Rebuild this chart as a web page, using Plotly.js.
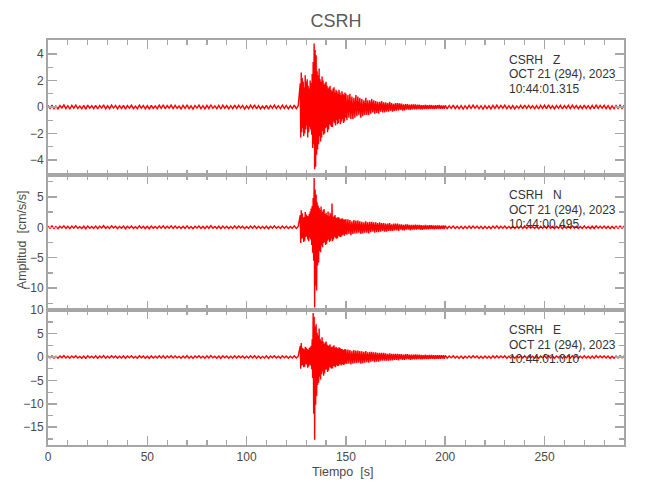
<!DOCTYPE html>
<html>
<head>
<meta charset="utf-8">
<script src="https://cdn.plot.ly/plotly-3.0.1.min.js"></script>
<style>html,body{margin:0;padding:0;background:#fff;}</style>
</head>
<body>
<div id="chart" style="width:650px;height:500px;"></div>
<script>
// Shared sampling times [s] (1 s in the quiet parts, finer during the event)
const tiempo = [
0,1,2,3,4,5,6,7,8,9,10,11,12,13,14,15,16,17,18,19,20,21,22,23,24,25,26,27,28,29,30,31,32,33,34,35,36,37,38,39,40,41,42,43,44,45,46,47,48,49,50,51,52,53,54,55,56,57,58,59,60,61,62,63,64,65,66,67,68,69,70,71,72,73,74,75,76,77,78,79,80,81,82,83,84,85,86,87,88,89,90,91,92,93,94,95,96,97,98,99,100,101,102,103,104,105,106,107,108,109,110,111,112,113,114,115,116,117,118,119,120,121,122,123,124,125,126,
127,127.25,127.5,127.75,128,128.25,128.5,128.75,129,129.25,129.5,129.75,130,130.25,130.5,130.75,131,131.25,131.5,131.75,132,132.25,132.5,132.75,133,133.25,133.5,133.75,134,134.25,134.5,134.75,135,135.25,135.5,135.75,136,136.25,136.5,136.75,137,137.25,137.5,137.75,138,138.25,138.5,138.75,139,139.25,139.5,139.75,140,140.25,140.5,140.75,141,141.25,141.5,141.75,142,142.25,142.5,142.75,143,143.25,143.5,143.75,144,144.25,144.5,144.75,145,145.25,145.5,145.75,146,146.25,146.5,146.75,147,147.25,147.5,147.75,148,148.25,148.5,148.75,149,149.25,149.5,149.75,150,
150.5,151,151.5,152,152.5,153,153.5,154,154.5,155,155.5,156,156.5,157,157.5,158,158.5,159,159.5,160,160.5,161,161.5,162,162.5,163,163.5,164,164.5,165,165.5,166,166.5,167,167.5,168,168.5,169,169.5,170,170.5,171,171.5,172,172.5,173,173.5,174,174.5,175,175.5,176,176.5,177,177.5,178,178.5,179,179.5,180,180.5,181,181.5,182,182.5,183,183.5,184,184.5,185,185.5,186,186.5,187,187.5,188,188.5,189,189.5,190,190.5,191,191.5,192,192.5,193,193.5,194,194.5,195,195.5,196,196.5,197,197.5,198,198.5,199,199.5,200,
201,202,203,204,205,206,207,208,209,210,211,212,213,214,215,216,217,218,219,220,221,222,223,224,225,226,227,228,229,230,231,232,233,234,235,236,237,238,239,240,241,242,243,244,245,246,247,248,249,250,251,252,253,254,255,256,257,258,259,260,261,262,263,264,265,266,267,268,269,270,271,272,273,274,275,276,277,278,279,280,281,282,283,284,285,286,287,288,289,290
];

// Component Z [cm/s/s]
const compZ = [
0.12,-0.10,0.15,-0.13,0.08,-0.14,0.11,-0.07,0.16,-0.12,
0.10,-0.15,0.13,-0.09,0.14,-0.11,0.07,-0.13,0.12,-0.16,
0.14,-0.09,0.10,-0.12,0.13,-0.15,0.11,-0.08,0.17,-0.13,
0.09,-0.12,0.15,-0.08,0.12,-0.14,0.10,-0.11,0.13,-0.16,
0.11,-0.10,0.14,-0.12,0.07,-0.13,0.15,-0.09,0.12,-0.14,
0.10,-0.16,0.13,-0.11,0.09,-0.12,0.14,-0.10,0.16,-0.13,
0.11,-0.09,0.15,-0.12,0.13,-0.10,0.08,-0.14,0.12,-0.11,
0.16,-0.13,0.09,-0.15,0.12,-0.08,0.14,-0.12,0.10,-0.14,
0.13,-0.11,0.17,-0.10,0.09,-0.13,0.12,-0.15,0.14,-0.09,
0.11,-0.14,0.10,-0.12,0.15,-0.11,0.13,-0.08,0.12,-0.15,
0.09,-0.12,0.14,-0.10,0.16,-0.13,0.11,-0.14,0.08,-0.12,
0.13,-0.16,0.12,-0.09,0.15,-0.11,0.10,-0.13,0.14,-0.10,
0.12,-0.14,0.09,-0.11,0.15,-0.12,0.10,
1.8,-2.3,2.6,-1.9, 2.2,-1.6,1.9,-2.2, 1.5,-2.0,2.4,-1.7, 1.9,-1.4,2.1,-2.3,
1.6,-1.9,1.4,-1.5, 2.0,-1.7,1.8,-2.1, 2.5,-3.1,3.4,-2.8, 4.8,-4.7,4.3,-4.5,
3.9,-3.6,2.7,-3.2, 2.4,-2.8,2.9,-2.2, 2.1,-2.6,1.9,-2.3, 2.3,-1.8,2.0,-2.1,
1.7,-2.0,1.8,-1.6, 1.9,-1.5,1.6,-1.9, 1.4,-1.7,1.5,-1.3, 1.6,-1.4,1.3,-1.5,
1.2,-1.5,1.4,-1.1, 1.5,-1.2,1.1,-1.4, 1.3,-1.0,1.2,-1.3, 1.0,-1.2,1.3,-0.9,
1.1,-1.3,0.9,-1.1, 1.2,-0.9,1.0,-1.2, 0.9,-1.1,1.1,-0.8, 1.0,
-1.0,0.9,-0.8,1.0,-0.9,0.8,-0.9,0.7,-0.8,0.9,
-0.7,0.8,-0.6,0.7,-0.8,0.6,-0.7,0.5,-0.6,0.7,
-0.6,0.5,-0.6,0.5,-0.5,0.6,-0.4,0.5,-0.5,0.45,
-0.45,0.4,-0.5,0.4,-0.35,0.45,-0.4,0.35,-0.4,0.35,
-0.35,0.3,-0.35,0.4,-0.3,0.3,-0.35,0.25,-0.3,0.3,
-0.28,0.3,-0.25,0.28,-0.22,0.25,-0.28,0.2,-0.25,0.22,
-0.2,0.22,-0.2,0.18,-0.22,0.2,-0.18,0.2,-0.17,0.2,
-0.18,0.17,-0.15,0.18,-0.17,0.15,-0.18,0.14,-0.16,0.17,
-0.15,0.14,-0.16,0.15,-0.13,0.15,-0.14,0.12,-0.15,0.14,
-0.13,0.14,-0.12,0.15,-0.13,0.12,-0.14,0.11,-0.13,0.12,
-0.14,0.12,-0.10,0.15,-0.12,0.09,-0.13,0.11,-0.15,0.10,
-0.12,0.13,-0.11,0.14,-0.09,0.12,-0.13,0.10,-0.15,0.11,
-0.12,0.09,-0.14,0.13,-0.10,0.15,-0.11,0.12,-0.09,0.14,
-0.13,0.10,-0.12,0.11,-0.14,0.09,-0.10,0.13,-0.12,0.15,
-0.11,0.12,-0.09,0.10,-0.13,0.11,-0.15,0.12,-0.10,0.14,
-0.12,0.16,-0.11,0.09,-0.14,0.12,-0.10,0.13,-0.15,0.11,
-0.09,0.13,-0.12,0.14,-0.10,0.11,-0.13,0.09,-0.12,0.15,
-0.11,0.10,-0.14,0.12,-0.13,0.16,-0.10,0.12,-0.09,0.13,
-0.12,0.11,-0.15,0.10,-0.13,0.12,-0.11,0.14,-0.10,0.12
];

// Component N [cm/s/s]
const compN = [
0.18,-0.15,0.22,-0.20,0.13,-0.23,0.17,-0.12,0.25,-0.18,
0.15,-0.22,0.20,-0.14,0.23,-0.17,0.11,-0.20,0.18,-0.24,
0.21,-0.14,0.15,-0.18,0.20,-0.23,0.17,-0.12,0.26,-0.20,
0.14,-0.18,0.23,-0.12,0.18,-0.21,0.15,-0.17,0.20,-0.24,
0.17,-0.15,0.21,-0.18,0.11,-0.20,0.23,-0.14,0.18,-0.21,
0.15,-0.24,0.20,-0.17,0.14,-0.18,0.21,-0.15,0.24,-0.20,
0.17,-0.14,0.23,-0.18,0.20,-0.15,0.12,-0.21,0.18,-0.17,
0.24,-0.20,0.14,-0.23,0.18,-0.12,0.21,-0.18,0.15,-0.21,
0.20,-0.17,0.26,-0.15,0.14,-0.20,0.18,-0.23,0.21,-0.14,
0.17,-0.21,0.15,-0.18,0.23,-0.17,0.20,-0.12,0.18,-0.23,
0.14,-0.18,0.21,-0.15,0.24,-0.20,0.17,-0.21,0.12,-0.18,
0.20,-0.24,0.18,-0.14,0.23,-0.17,0.15,-0.20,0.21,-0.15,
0.18,-0.21,0.14,-0.17,0.23,-0.18,0.15,
2.0,-2.6,2.8,-1.9, 2.3,-1.8,1.6,-2.4, 1.7,-2.2,2.5,-1.6, 2.1,-1.5,1.9,-2.0,
1.8,-2.3,2.2,-1.7, 2.6,-2.0,3.1,-2.9, 3.5,-4.2,4.8,-5.5, 8.1,-13.2,6.2,-9.6,
5.4,-10.4,4.1,-6.3, 3.6,-5.8,3.2,-3.9, 2.9,-4.1,3.4,-3.0, 2.5,-3.3,2.8,-2.6,
3.0,-2.4,2.2,-2.9, 2.4,-2.7,2.0,-2.2, 2.6,-2.0,1.8,-2.4, 2.4,-2.2,2.1,-1.9,
3.9,-2.3,1.7,-2.0, 1.8,-1.6,2.0,-1.7, 1.6,-1.9,1.5,-1.8, 1.7,-1.4,1.6,-1.5,
1.4,-1.6,1.3,-1.5, 1.5,-1.3,1.4,-1.2, 1.2,-1.4,1.3,-1.1, 1.3,
-1.2,1.3,-1.1,1.2,-1.3,1.0,-1.1,1.2,-1.0,1.1,
-1.0,1.1,-0.9,1.0,-1.1,0.9,-1.0,0.8,-0.9,1.0,
-0.9,0.8,-1.0,0.9,-0.8,0.9,-0.7,0.8,-0.9,0.8,
-0.8,0.7,-0.8,0.8,-0.7,0.7,-0.6,0.7,-0.7,0.6,
-0.7,0.6,-0.6,0.7,-0.6,0.5,-0.6,0.6,-0.5,0.6,
-0.5,0.6,-0.6,0.5,-0.4,0.5,-0.5,0.4,-0.5,0.5,
-0.4,0.5,-0.4,0.4,-0.5,0.4,-0.4,0.4,-0.4,0.45,
-0.4,0.4,-0.35,0.4,-0.4,0.35,-0.4,0.3,-0.35,0.4,
-0.35,0.3,-0.35,0.35,-0.3,0.35,-0.3,0.3,-0.35,0.3,
-0.3,0.3,-0.28,0.3,-0.3,0.28,-0.25,0.3,-0.28,0.25,
-0.21,0.18,-0.15,0.22,-0.18,0.14,-0.20,0.17,-0.23,0.15,
-0.18,0.20,-0.17,0.21,-0.14,0.18,-0.20,0.15,-0.22,0.17,
-0.18,0.14,-0.21,0.20,-0.15,0.23,-0.17,0.18,-0.14,0.21,
-0.20,0.15,-0.18,0.17,-0.21,0.14,-0.15,0.20,-0.18,0.22,
-0.17,0.18,-0.14,0.15,-0.20,0.17,-0.23,0.18,-0.15,0.21,
-0.18,0.24,-0.17,0.14,-0.21,0.18,-0.15,0.20,-0.23,0.17,
-0.14,0.20,-0.18,0.21,-0.15,0.17,-0.20,0.14,-0.18,0.23,
-0.17,0.15,-0.21,0.18,-0.20,0.24,-0.15,0.18,-0.14,0.20,
-0.18,0.17,-0.23,0.15,-0.20,0.18,-0.17,0.21,-0.15,0.18
];

// Component E [cm/s/s]
const compE = [
0.22,-0.18,0.27,-0.24,0.16,-0.28,0.20,-0.15,0.30,-0.22,
0.18,-0.26,0.24,-0.17,0.28,-0.20,0.14,-0.24,0.22,-0.29,
0.25,-0.17,0.18,-0.22,0.24,-0.28,0.20,-0.15,0.31,-0.24,
0.17,-0.22,0.27,-0.15,0.22,-0.25,0.18,-0.20,0.24,-0.29,
0.20,-0.18,0.25,-0.22,0.14,-0.24,0.27,-0.17,0.22,-0.25,
0.18,-0.28,0.24,-0.20,0.17,-0.22,0.25,-0.18,0.28,-0.24,
0.20,-0.17,0.27,-0.22,0.24,-0.18,0.15,-0.25,0.22,-0.20,
0.29,-0.24,0.17,-0.27,0.22,-0.15,0.25,-0.22,0.18,-0.25,
0.24,-0.20,0.31,-0.18,0.17,-0.24,0.22,-0.27,0.25,-0.17,
0.20,-0.25,0.18,-0.22,0.27,-0.20,0.24,-0.15,0.22,-0.27,
0.17,-0.22,0.25,-0.18,0.29,-0.24,0.20,-0.25,0.15,-0.22,
0.24,-0.29,0.22,-0.17,0.27,-0.20,0.18,-0.24,0.25,-0.18,
0.22,-0.25,0.17,-0.20,0.27,-0.22,0.18,
2.4,-2.5,3.0,-1.8, 2.0,-1.7,1.8,-2.2, 1.6,-2.1,2.2,-1.5, 2.0,-1.6,1.7,-2.3,
1.5,-2.0,1.9,-1.6, 2.1,-1.8,2.4,-2.6, 3.8,-4.5,9.4,-12.1, 8.6,-17.7,6.5,-10.2,
7.0,-8.3,5.2,-6.0, 4.6,-5.5,6.1,-4.2, 3.9,-4.8,3.5,-3.7, 4.2,-3.1,3.3,-4.0,
2.8,-3.5,3.1,-2.7, 3.3,-2.6,2.7,-3.2, 2.4,-2.9,2.5,-2.2, 2.7,-2.3,2.2,-2.5,
2.1,-2.4,2.3,-1.9, 2.5,-2.0,1.9,-2.2, 2.2,-1.7,2.0,-1.9, 1.8,-1.9,2.1,-1.6,
1.9,-1.6,1.7,-1.8, 1.7,-1.5,1.6,-1.7, 1.5,-1.6,1.7,-1.4, 1.6,
-1.5,1.6,-1.4,1.5,-1.6,1.3,-1.4,1.5,-1.3,1.4,
-1.3,1.4,-1.2,1.3,-1.4,1.2,-1.3,1.1,-1.2,1.3,
-1.1,1.0,-1.2,1.1,-1.0,1.1,-0.9,1.0,-1.1,1.0,
-1.0,0.9,-1.0,0.9,-0.8,0.9,-0.8,0.9,-0.8,0.8,
-0.8,0.7,-0.8,0.8,-0.7,0.7,-0.7,0.7,-0.6,0.7,
-0.6,0.7,-0.7,0.6,-0.5,0.6,-0.6,0.5,-0.6,0.6,
-0.5,0.6,-0.5,0.5,-0.6,0.5,-0.5,0.5,-0.5,0.55,
-0.5,0.5,-0.45,0.5,-0.5,0.45,-0.5,0.4,-0.45,0.5,
-0.45,0.4,-0.45,0.45,-0.4,0.45,-0.4,0.4,-0.45,0.4,
-0.4,0.4,-0.38,0.4,-0.4,0.38,-0.35,0.4,-0.38,0.35,
-0.26,0.22,-0.18,0.27,-0.22,0.17,-0.25,0.20,-0.28,0.18,
-0.22,0.24,-0.20,0.26,-0.17,0.22,-0.25,0.18,-0.27,0.20,
-0.22,0.17,-0.26,0.24,-0.18,0.28,-0.20,0.22,-0.17,0.26,
-0.24,0.18,-0.22,0.20,-0.26,0.17,-0.18,0.24,-0.22,0.27,
-0.20,0.22,-0.17,0.18,-0.24,0.20,-0.28,0.22,-0.18,0.26,
-0.22,0.29,-0.20,0.17,-0.26,0.22,-0.18,0.24,-0.28,0.20,
-0.17,0.24,-0.22,0.26,-0.18,0.20,-0.24,0.17,-0.22,0.28,
-0.20,0.18,-0.26,0.22,-0.24,0.29,-0.18,0.22,-0.17,0.24,
-0.22,0.20,-0.28,0.18,-0.24,0.22,-0.20,0.26,-0.18,0.22
];

const estacion = "CSRH";
const componentes = ["Z", "N", "E"];
const fecha = "OCT 21 (294), 2023";
const horas = ["10:44:01.315", "10:44:00.495", "10:44:01.010"];

const FONT = "Liberation Sans, Arial, sans-serif";
const AXC = "#a6a6a6";
const TXT = "#4a4a4a";

function xAx(extra) {
  return Object.assign({
    range: [0, 290], dtick: 50, tick0: 0,
    ticks: "inside", ticklen: 9, tickwidth: 1.5, tickcolor: AXC,
    minor: {dtick: 10, ticks: "inside", ticklen: 5, tickwidth: 1.2, tickcolor: AXC, showgrid: false},
    showline: true, linecolor: AXC, linewidth: 2, mirror: "ticks",
    showgrid: false, zeroline: false,
    tickfont: {family: FONT, size: 12, color: TXT}
  }, extra);
}
function yAx(extra) {
  return Object.assign({
    ticks: "inside", ticklen: 9, tickwidth: 1.5, tickcolor: AXC,
    showline: true, linecolor: AXC, linewidth: 2, mirror: "ticks",
    showgrid: false, zeroline: false,
    tickfont: {family: FONT, size: 12, color: TXT}
  }, extra);
}

const LINE = {color: "#ff0000", width: 1.4};
const traces = [
  {x: tiempo, y: compZ, xaxis: "x", yaxis: "y", type: "scatter", mode: "lines", line: LINE, hoverinfo: "skip"},
  {x: tiempo, y: compN, xaxis: "x2", yaxis: "y2", type: "scatter", mode: "lines", line: LINE, hoverinfo: "skip"},
  {x: tiempo, y: compE, xaxis: "x3", yaxis: "y3", type: "scatter", mode: "lines", line: LINE, hoverinfo: "skip"}
];

const annotations = [];
const panelTop = [1, 2/3, 1/3];
componentes.forEach((c, i) => {
  const lines = [estacion + "\u00a0\u00a0\u00a0" + c, fecha, horas[i]];
  lines.forEach((txt, j) => {
    annotations.push({
      xref: "paper", yref: "paper", x: 0.797, y: panelTop[i] - (20 + j * 14.5) / 405,
      xanchor: "left", yanchor: "middle", showarrow: false, text: txt,
      font: {family: FONT, size: 12, color: "#333"}
    });
  });
});
annotations.push({
  xref: "paper", yref: "paper", x: -0.045, y: 0.506, textangle: -90,
  xanchor: "center", yanchor: "middle", showarrow: false,
  text: "Amplitud\u00a0\u00a0[cm/s/s]", font: {family: FONT, size: 12.5, color: TXT}
});
annotations.push({
  xref: "paper", yref: "paper", x: 0.512, y: -0.066,
  xanchor: "center", yanchor: "middle", showarrow: false,
  text: "Tiempo\u00a0\u00a0[s]", font: {family: FONT, size: 12.5, color: TXT}
});

const layout = {
  width: 650, height: 500,
  margin: {l: 48, r: 26, t: 40, b: 55},
  paper_bgcolor: "#ffffff", plot_bgcolor: "#ffffff",
  showlegend: false,
  title: {text: estacion, x: 0.5, xref: "paper", xanchor: "center", y: 0.958, yanchor: "middle",
          font: {family: FONT, size: 18, color: "#5a5a5a"}},
  xaxis: xAx({anchor: "y", showticklabels: false}),
  xaxis2: xAx({anchor: "y2", showticklabels: false}),
  xaxis3: xAx({anchor: "y3", showticklabels: true}),
  yaxis: yAx({domain: [2/3, 1], range: [-5.13, 5.06], dtick: 2, tick0: 0,
              minor: {dtick: 1, ticks: "inside", ticklen: 5, tickwidth: 1.2, tickcolor: AXC, showgrid: false}}),
  yaxis2: yAx({domain: [1/3, 2/3], range: [-13.6, 8.6], dtick: 5, tick0: 0,
              minor: {dtick: 2.5, ticks: "inside", ticklen: 5, tickwidth: 1.2, tickcolor: AXC, showgrid: false}}),
  yaxis3: yAx({domain: [0, 1/3], range: [-18.8, 10.05], dtick: 5, tick0: 0,
              minor: {dtick: 2.5, ticks: "inside", ticklen: 5, tickwidth: 1.2, tickcolor: AXC, showgrid: false}}),
  annotations: annotations
};

Plotly.newPlot("chart", traces, layout, {displayModeBar: false, staticPlot: true});
</script>
</body>
</html>
